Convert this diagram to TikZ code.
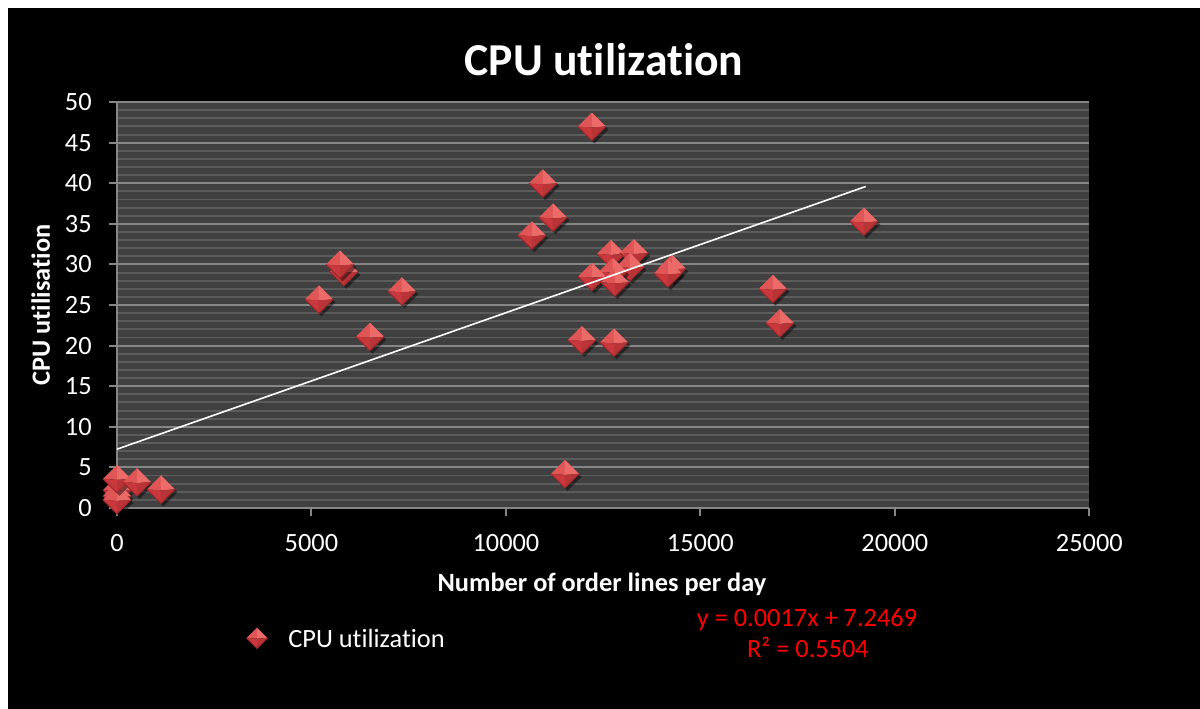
\documentclass[tikz,border=0pt]{standalone}
\usepackage{fontspec}
\setmainfont{Carlito}[Ligatures=NoCommon]
\usetikzlibrary{positioning}

\definecolor{plotbg}{RGB}{64,64,64}
\definecolor{minorgrid}{RGB}{92,92,92}
\definecolor{majorgrid}{RGB}{134,134,134}
\definecolor{mkhi}{RGB}{236,106,104}
\definecolor{mkmid}{RGB}{224,86,86}
\definecolor{mklo}{RGB}{200,56,60}
\definecolor{mkedge}{RGB}{160,40,44}

\tikzset{
  cpudiamond/.pic={
    \fill[black, opacity=.45] (0.05cm,-0.34cm) -- (0.33cm,-0.06cm) -- (0.05cm,0.22cm) -- (-0.23cm,-0.06cm) -- cycle;
    \fill[mkmid] (-0.28cm,0cm) -- (0cm,0.28cm) -- (0cm,-0.02cm) -- cycle;
    \fill[mkhi] (0cm,0.28cm) -- (0.28cm,0cm) -- (0cm,-0.02cm) -- cycle;
    \fill[mklo] (-0.28cm,0cm) -- (0cm,-0.28cm) -- (0cm,-0.02cm) -- cycle;
    \fill[mklo!92!black] (0.28cm,0cm) -- (0cm,-0.28cm) -- (0cm,-0.02cm) -- cycle;
    \draw[mkedge, line width=0.6pt, line join=round] (-0.28cm,0cm) -- (0cm,-0.28cm) -- (0.28cm,0cm);
  },
  ticklabel/.style={font=\fontsize{15}{18}\selectfont, text=white, inner sep=0pt},
  axistitle/.style={font=\fontsize{15}{18}\selectfont\bfseries, text=white, inner sep=0pt},
  fitlabel/.style={font=\fontsize{15}{18}\selectfont, text=red, inner sep=0pt},
}

\begin{document}
\begin{tikzpicture}[x=0.02cm, y=-0.02cm]
\useasboundingbox (0,0) rectangle (1200,709);
\fill[white] (0,0) rectangle (1200,709);
\fill[black] (8,8) rectangle (1200,709);

\node[font=\fontsize{26}{30}\selectfont\bfseries, text=white, anchor=base, inner sep=0pt] (title) at (604,76) {CPU utilization};

% plot area, x in thousands of order lines
\begin{scope}[shift={(117,508)}, x=0.778cm, y=0.1624cm]
  \fill[plotbg] (0,0) rectangle (25,50);
  \foreach \v in {1,...,49} \draw[minorgrid, line width=1.1pt] (0,\v) -- (25,\v);
  \foreach \v in {5,10,...,50} \draw[majorgrid, line width=1.1pt] (0,\v) -- (25,\v);
  \draw[majorgrid, line width=1.1pt] (0,50) -- (0,0) -- (25,0);
  \foreach \v in {0,5,...,50} {
    \draw[majorgrid, line width=1.1pt] (0,\v) -- ++(-0.16cm,0);
    \node[ticklabel, anchor=east] (ylab\v) at ([xshift=-0.5cm]0,\v) {\v};
  }
  \foreach \k/\t in {0/0,5/5000,10/10000,15/15000,20/20000,25/25000} {
    \draw[majorgrid, line width=1.1pt] (\k,0) -- ++(0,-0.16cm);
    \node[ticklabel] (xlab\k) at ([yshift=-0.7cm]\k,0) {\t};
  }

  \foreach \px/\py in {0/2.2,0/1.5,0/1.0,0/3.6,0.514/3.2,1.13/2.3,
      5.193/25.7,5.835/29.1,5.733/30.0,6.504/21.1,7.327/26.7,
      10.669/33.6,10.951/40.0,11.208/35.8,12.211/47.0,11.517/4.2,11.954/20.7,12.776/20.4,
      12.699/31.3,13.290/31.4,13.188/29.7,12.750/29.1,12.211/28.5,12.802/27.8,
      14.267/29.5,14.164/28.9,16.864/27.0,17.044/22.8,19.203/35.3}
    \pic at (\px,\py) {cpudiamond};

  \coordinate (fitstart) at (0,7.2469);
  \coordinate (fitend) at (19.25,39.6);
  \draw[white, line width=0.9pt] (fitstart) -- (fitend);
\end{scope}

\node[axistitle, anchor=base] (xtitle) at (602,591) {Number of order lines per day};
\node[axistitle, anchor=base, rotate=90] (ytitle) at (50,305) {CPU utilisation};

% legend and trendline equation
\coordinate (legmark) at (257,638);
\pic[scale=0.75] at (legmark) {cpudiamond};
\node[ticklabel, right=0.62cm of legmark] (legtext) {CPU utilization};
\node[fitlabel, anchor=base] (fit1) at (807,626) {y = 0.0017x + 7.2469};
\node[fitlabel, anchor=base] (fit2) at (808,657) {R² = 0.5504};
\end{tikzpicture}
\end{document}
